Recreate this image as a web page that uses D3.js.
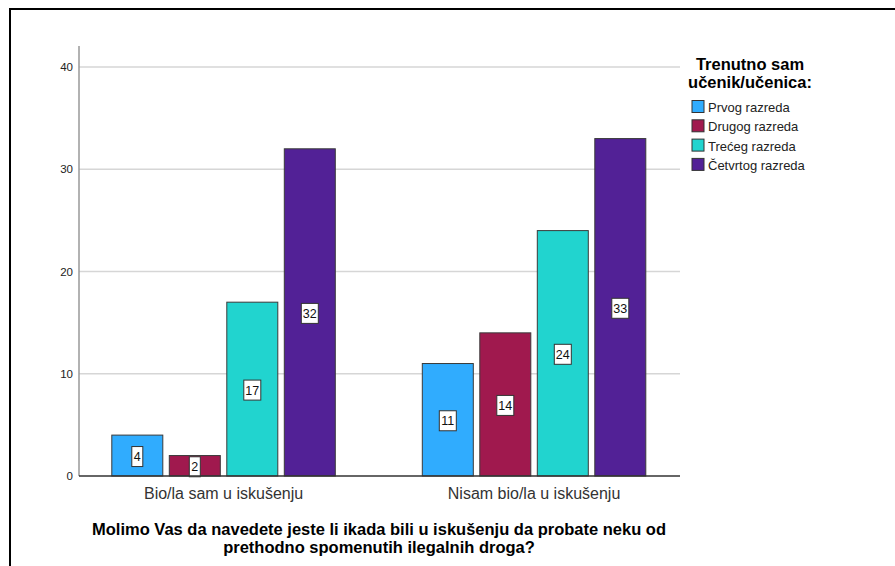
<!DOCTYPE html>
<html>
<head>
<meta charset="utf-8">
<script src="https://cdn.jsdelivr.net/npm/d3@7/dist/d3.min.js"></script>
<style>
  body { margin: 0; background: #fff; }
  svg { display: block; font-family: "Liberation Sans", Arial, sans-serif; }
</style>
</head>
<body>
<svg></svg>
<script>
const width = 895,
      height = 566

// data
const categories = ["Bio/la sam u iskušenju", "Nisam bio/la u iskušenju"]
const grades = ["Prvog razreda", "Drugog razreda", "Trećeg razreda", "Četvrtog razreda"]
const counts = [
  [4, 2, 17, 32],
  [11, 14, 24, 33]
]
const yTicks = [0, 10, 20, 30, 40]
const colors = ["#30acfe", "#a0194e", "#21d4cf", "#522196"]
const legendTitle = ["Trenutno sam", "učenik/učenica:"]
const xTitle = ["Molimo Vas da navedete jeste li ikada bili u iskušenju da probate neku od",
                "prethodno spomenutih ilegalnih droga?"]

const svg = d3.select("svg")
  .attr("width", width)
  .attr("height", height)

// outer frame
svg.append("rect")
  .attr("x", 10).attr("y", 9)
  .attr("width", width + 20).attr("height", height + 20)
  .attr("fill", "none")
  .attr("stroke", "#000")
  .attr("stroke-width", 2)

const plot = {left: 79, right: 680, top: 46, bottom: 476}

const y = d3.scaleLinear()
  .domain([0, 40])
  .range([476, 67])

const x0 = d3.scaleBand()
  .domain(categories)
  .range([68.3, 689.3])

const x1 = d3.scaleBand()
  .domain(grades)
  .range([43.5, 267])
  .paddingInner(0.113)

const color = d3.scaleOrdinal().domain(grades).range(colors)

// gridlines
svg.append("g")
  .selectAll("line")
  .data(yTicks.filter(d => d > 0))
  .join("line")
    .attr("x1", plot.left).attr("x2", plot.right)
    .attr("y1", d => y(d)).attr("y2", d => y(d))
    .attr("stroke", "#d6d6d6")
    .attr("stroke-width", 1.5)

// y axis
const yAxis = svg.append("g")
  .attr("transform", `translate(${plot.left},0)`)
  .call(d3.axisLeft(y).tickValues(yTicks).tickSize(0).tickPadding(6))
yAxis.select(".domain").remove()
yAxis.selectAll("text")
  .attr("font-size", 11.5)
  .attr("fill", "#222")
  .attr("font-family", "Liberation Sans, Arial, sans-serif")

svg.append("line")
  .attr("x1", plot.left).attr("x2", plot.left)
  .attr("y1", plot.top).attr("y2", plot.bottom)
  .attr("stroke", "#999")
  .attr("stroke-width", 1.5)

// bars
const groups = svg.append("g")
  .selectAll("g")
  .data(categories)
  .join("g")
    .attr("transform", d => `translate(${x0(d)},0)`)

const bars = groups.selectAll("g.bar")
  .data((d, i) => grades.map((g, j) => ({grade: g, value: counts[i][j]})))
  .join("g").classed("bar", true)

bars.append("rect")
  .attr("x", d => x1(d.grade))
  .attr("y", d => y(d.value))
  .attr("width", x1.bandwidth())
  .attr("height", d => y(0) - y(d.value))
  .attr("fill", d => color(d.grade))
  .attr("stroke", "#3a3a3a")
  .attr("stroke-width", 1)

// value labels
const label = bars.append("g")
  .attr("transform", d => `translate(${x1(d.grade) + x1.bandwidth() / 2},${(y(d.value) + y(0)) / 2 + 1})`)

label.append("rect")
  .attr("x", d => d.value >= 10 ? -8.5 : -5.5)
  .attr("y", -10)
  .attr("width", d => d.value >= 10 ? 17 : 11)
  .attr("height", 20)
  .attr("fill", "#fff")
  .attr("stroke", "#333")
  .attr("stroke-width", 1)

label.append("text")
  .attr("text-anchor", "middle")
  .attr("dy", "0.36em")
  .attr("font-size", 12.5)
  .attr("fill", "#111")
  .text(d => d.value)

// x axis line
svg.append("line")
  .attr("x1", plot.left).attr("x2", plot.right)
  .attr("y1", y(0)).attr("y2", y(0))
  .attr("stroke", "#333")
  .attr("stroke-width", 1.5)

// category labels
svg.append("g")
  .selectAll("text")
  .data(categories)
  .join("text")
    .attr("x", d => x0(d) + x0.bandwidth() / 2)
    .attr("y", 499)
    .attr("text-anchor", "middle")
    .attr("font-size", 16)
    .attr("fill", "#333")
    .text(d => d)

// x title
svg.append("g")
  .selectAll("text")
  .data(xTitle)
  .join("text")
    .attr("x", 379)
    .attr("y", (d, i) => 535 + i * 18)
    .attr("text-anchor", "middle")
    .attr("font-size", 16.5)
    .attr("font-weight", "bold")
    .attr("fill", "#000")
    .text(d => d)

// legend
const legend = svg.append("g")

legend.selectAll("text.title")
  .data(legendTitle)
  .join("text").classed("title", true)
    .attr("x", 750)
    .attr("y", (d, i) => 70 + i * 18)
    .attr("text-anchor", "middle")
    .attr("font-size", 16.5)
    .attr("font-weight", "bold")
    .attr("fill", "#000")
    .text(d => d)

const items = legend.selectAll("g.item")
  .data(grades)
  .join("g").classed("item", true)
    .attr("transform", (d, i) => `translate(692,${100.5 + i * 19.3})`)

items.append("rect")
  .attr("width", 12).attr("height", 12)
  .attr("fill", d => color(d))
  .attr("stroke", "#333")
  .attr("stroke-width", 1)

items.append("text")
  .attr("x", 16)
  .attr("y", 11.5)
  .attr("font-size", 13)
  .attr("fill", "#222")
  .text(d => d)
</script>
</body>
</html>
